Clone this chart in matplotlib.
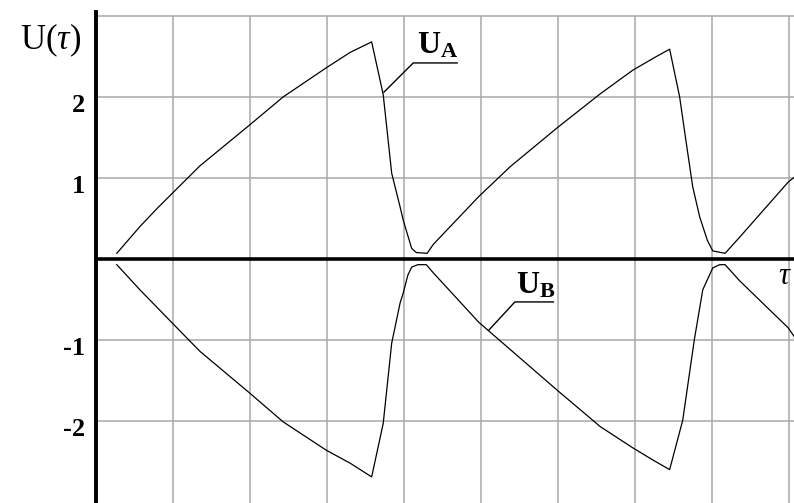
import matplotlib.pyplot as plt
from matplotlib.transforms import ScaledTranslation

plt.rcParams['font.family'] = 'Liberation Serif'
plt.rcParams['mathtext.fontset'] = 'custom'
plt.rcParams['mathtext.rm'] = 'Liberation Serif'
plt.rcParams['mathtext.it'] = 'Liberation Serif:italic'
plt.rcParams['mathtext.bf'] = 'Liberation Serif:bold'

# values (tau in grid units)
tau_a = [0.27, 0.57, 0.80, 0.99, 1.35, 1.99, 2.43, 2.99, 3.30, 3.58, 3.73, 3.84,
         3.95, 3.99, 4.04, 4.10, 4.16, 4.30, 4.38, 4.97, 5.38, 5.99, 6.55, 6.97,
         7.26, 7.45, 7.58, 7.66, 7.75, 7.84, 7.94, 8.01, 8.17, 8.36, 8.99, 9.07]
u_a = [0.07, 0.40, 0.63, 0.81, 1.15, 1.65, 2.00, 2.36, 2.55, 2.68, 2.03, 1.06,
       0.64, 0.48, 0.32, 0.13, 0.08, 0.07, 0.18, 0.77, 1.14, 1.62, 2.04, 2.33,
       2.49, 2.59, 2.00, 1.47, 0.89, 0.52, 0.23, 0.10, 0.07, 0.27, 0.95, 1.01]

tau_b = [0.27, 0.57, 0.99, 1.35, 1.99, 2.43, 2.99, 3.30, 3.58, 3.73, 3.84, 3.95,
         3.99, 4.05, 4.10, 4.18, 4.29, 4.38, 4.97, 5.99, 6.55, 6.97, 7.23, 7.45,
         7.62, 7.77, 7.88, 8.01, 8.10, 8.17, 8.36, 8.99, 9.07]
u_b = [-0.07, -0.38, -0.79, -1.14, -1.65, -2.01, -2.36, -2.52, -2.69, -2.03, -1.04, -0.54,
       -0.42, -0.20, -0.10, -0.07, -0.07, -0.17, -0.78, -1.62, -2.07, -2.33, -2.48, -2.60,
       -1.99, -1.00, -0.38, -0.11, -0.07, -0.07, -0.27, -0.85, -0.96]

y_ticks = [-2, -1, 1, 2]
y_tick_labels = ['-2', '-1', '1', '2']
x_grid = [1, 2, 3, 4, 5, 6, 7, 8, 9]
y_grid = [-2, -1, 1, 2, 3]

fig = plt.figure(figsize=(7.94, 5.03), dpi=100)
ax = fig.add_axes([96 / 794, 0, 698 / 794, 491 / 503])
ax.set_xlim(0, 9.065)
ax.set_ylim(-3.012, 3.049)

ax.vlines(x_grid, -3.1, 3, color='#a8a8a8', lw=1.1, zorder=1)
ax.hlines(y_grid, 0, 9.1, color='#a8a8a8', lw=1.1, zorder=1)
ax.axhline(0, color='black', lw=2.6, zorder=3)

ax.plot(tau_a, u_a, color='black', lw=0.9, zorder=4)
ax.plot(tau_b, u_b, color='black', lw=0.9, zorder=4)

for side in ['top', 'right', 'bottom']:
    ax.spines[side].set_visible(False)
ax.spines['left'].set_linewidth(2.8)
ax.set_xticks([])
ax.set_yticks(y_ticks, y_tick_labels, fontweight='bold', fontsize=19)
ax.tick_params(axis='y', length=0, pad=8)
for lab in ax.get_yticklabels():
    lab.set_transform(lab.get_transform() + ScaledTranslation(0, -4 / 72, fig.dpi_scale_trans))

# curve labels with leader lines
ax.text(4.17, 2.54, r'$\mathbf{U_A}$', fontsize=23, va='baseline')
ax.plot([3.74, 4.12, 4.69], [2.06, 2.42, 2.42], color='black', lw=1)
ax.text(5.45, -0.42, r'$\mathbf{U_B}$', fontsize=23, va='baseline')
ax.plot([5.10, 5.44, 5.94], [-0.88, -0.53, -0.53], color='black', lw=1)

fig.text(51 / 794, 1 - 40 / 503, r'U($\mathit{τ}$)', fontsize=25, ha='center', va='center')
fig.text(792 / 794, 1 - 276 / 503, r'$\mathit{τ}$', fontsize=22, ha='right', va='center')

fig.savefig('out.png', dpi=100, facecolor='white')
